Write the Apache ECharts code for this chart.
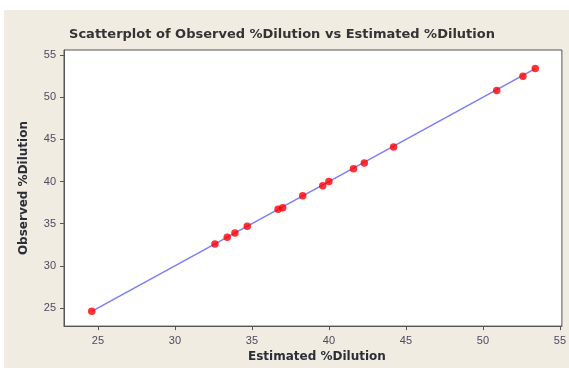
<!DOCTYPE html>
<html><head><meta charset="utf-8">
<script src="https://cdn.jsdelivr.net/npm/echarts@6/dist/echarts.min.js"></script>
<style>
html,body{margin:0;padding:0;background:#ffffff;}
#bg{position:absolute;left:4px;top:10px;width:565px;height:358px;background:#f0ece2;}
#c{position:absolute;left:0;top:0;width:569px;height:368px;}
</style></head>
<body>
<div id="bg"></div>
<div id="c"></div>
<script>
const estimated = [24.6, 32.6, 33.4, 33.9, 34.7, 36.7, 37.0, 38.3, 39.6, 40.0, 41.6, 42.3, 44.2, 50.9, 52.6, 53.4];
const observed  = [24.6, 32.6, 33.4, 33.9, 34.7, 36.7, 36.9, 38.3, 39.5, 40.0, 41.5, 42.2, 44.1, 50.8, 52.5, 53.4];
const fitX = [24.6, 53.4];
const fitY = [24.6, 53.4];
const xTicks = [25, 30, 35, 40, 45, 50, 55];
const yTicks = [25, 30, 35, 40, 45, 50, 55];

const chart = echarts.init(document.getElementById('c'), null, {renderer:'canvas'});
const font = 'Liberation Sans';
const bfont = 'DejaVu Sans';
chart.setOption({
  backgroundColor: 'transparent',
  animation: false,
  title: {
    text: 'Scatterplot of Observed %Dilution vs Estimated %Dilution',
    left: 277, top: 23, textAlign: 'center',
    textStyle: {fontFamily: bfont, fontSize: 13, fontWeight: 'bold', color: '#333333'}
  },
  grid: {left: 64, top: 50, right: 1, bottom: 39, show: true, backgroundColor: '#ffffff', borderColor: '#555555', borderWidth: 1},
  xAxis: {
    type: 'value', min: 22.8, max: 55.13,
    name: 'Estimated %Dilution', nameLocation: 'middle', nameGap: 24,
    nameTextStyle: {fontFamily: bfont, fontSize: 12, fontWeight: 'bold', color: '#2d2d35', padding: [0, 0, 0, 8]},
    axisLine: {show: true, onZero: false, lineStyle: {color: '#555555', width: 1}},
    axisTick: {show: true, length: 4, customValues: xTicks, lineStyle: {color: '#555555'}},
    axisLabel: {customValues: xTicks, margin: 9, fontFamily: font, fontSize: 11, color: '#4d4a5e'},
    splitLine: {show: false}
  },
  yAxis: {
    type: 'value', min: 22.85, max: 55.6,
    name: 'Observed %Dilution', nameLocation: 'middle', nameGap: 34,
    nameTextStyle: {fontFamily: bfont, fontSize: 12, fontWeight: 'bold', color: '#2d2d35'},
    axisLine: {show: true, onZero: false, lineStyle: {color: '#555555', width: 1}},
    axisTick: {show: true, length: 4, customValues: yTicks, lineStyle: {color: '#555555'}},
    axisLabel: {customValues: yTicks, margin: 8, fontFamily: font, fontSize: 11, color: '#4d4a5e'},
    splitLine: {show: false}
  },
  series: [
    {
      type: 'line', data: fitX.map((x, i) => [x, fitY[i]]), showSymbol: false, symbol: 'none',
      lineStyle: {color: '#7d7dfa', width: 1.5}, z: 2
    },
    {
      type: 'scatter', data: estimated.map((x, i) => [x, observed[i]]), symbol: 'circle', symbolSize: 7.5,
      itemStyle: {color: '#ff0000'}, z: 3
    }
  ]
});
</script>
</body></html>
